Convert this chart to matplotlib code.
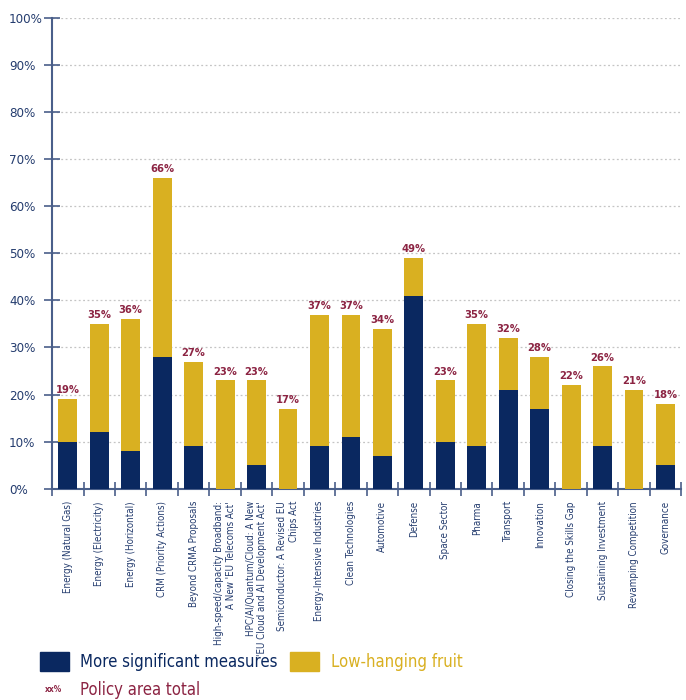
import matplotlib
matplotlib.use("Agg")
import matplotlib.pyplot as plt
from matplotlib.patches import Rectangle
from matplotlib import font_manager as fm
import numpy as np

categories = [
    "Energy (Natural Gas)",
    "Energy (Electricity)",
    "Energy (Horizontal)",
    "CRM (Priority Actions)",
    "Beyond CRMA Proposals",
    "High-speed/capacity Broadband:\nA New 'EU Telecoms Act'",
    "HPC/AI/Quantum/Cloud: A New\n'EU Cloud and AI Development Act'",
    "Semiconductor: A Revised EU\nChips Act",
    "Energy-Intensive Industries",
    "Clean Technologies",
    "Automotive",
    "Defense",
    "Space Sector",
    "Pharma",
    "Transport",
    "Innovation",
    "Closing the Skills Gap",
    "Sustaining Investment",
    "Revamping Competition",
    "Governance",
]
significant = [10, 12, 8, 28, 9, 0, 5, 0, 9, 11, 7, 41, 10, 9, 21, 17, 0, 9, 0, 5]
totals = [19, 35, 36, 66, 27, 23, 23, 17, 37, 37, 34, 49, 23, 35, 32, 28, 22, 26, 21, 18]
low_hanging = [t - s for t, s in zip(totals, significant)]
yticks = list(range(0, 101, 10))

NAVY = "#0a2860"
GOLD = "#d9b021"
CRIMSON = "#8c2443"
AXIS = "#4a5f8a"
TXT = "#243c6e"

# look for a condensed face if one exists
cond = [f for f in fm.fontManager.ttflist if "ondensed" in f.fname or "Narrow" in f.name]
FAMILY = ["DejaVu Sans"]
STRETCH = "normal"
if cond:
    FAMILY = [cond[0].name, "DejaVu Sans"]
    STRETCH = "condensed"
plt.rcParams["font.family"] = FAMILY
plt.rcParams["font.stretch"] = STRETCH

fig = plt.figure(figsize=(6.86, 7.0), dpi=100)
ax = fig.add_axes([0.076, 0.302, 0.917, 0.672])

x = np.arange(len(categories))
ax.bar(x, significant, width=0.6, color=NAVY, zorder=3)
ax.bar(x, low_hanging, width=0.6, bottom=significant, color=GOLD, zorder=3)
for xi, t in zip(x, totals):
    ax.text(xi, t + 0.8, f"{t}%", ha="center", va="bottom", color=CRIMSON,
            fontsize=8, fontweight="bold")

ax.set_xlim(-0.5, len(categories) - 0.5)
ax.set_ylim(0, 100)
ax.set_yticks(yticks)
ax.set_yticklabels([f"{v}%" for v in yticks], color=TXT, fontsize=9.5, ha="left")
ax.tick_params(axis="y", direction="inout", length=12, width=1.2, color=AXIS, pad=25)

ax.set_xticks(x)
ax.set_xticklabels(categories, rotation=90, ha="center", va="top",
                   multialignment="right", color=TXT, fontsize=7)
ax.tick_params(axis="x", which="major", length=0, pad=9)
ax.set_xticks(np.arange(-0.5, len(categories), 1.0), minor=True)
ax.tick_params(axis="x", which="minor", direction="inout", length=10, width=1.2, color=AXIS)

ax.yaxis.grid(True, linestyle=(0, (1.5, 2)), color="#c4c4c4", linewidth=0.9, zorder=0)
ax.set_axisbelow(True)
for s in ["top", "right"]:
    ax.spines[s].set_visible(False)
for s in ["left", "bottom"]:
    ax.spines[s].set_color(AXIS)
    ax.spines[s].set_linewidth(1.5)

# legend
LFS = 12
fig.patches.append(Rectangle((40 / 686, 1 - 671 / 700), 29 / 686, 19 / 700,
                             transform=fig.transFigure, color=NAVY))
fig.text(80 / 686, 1 - 662 / 700, "More significant measures", color=NAVY,
         fontsize=LFS, va="center", ha="left")
fig.patches.append(Rectangle((290 / 686, 1 - 671 / 700), 29 / 686, 19 / 700,
                             transform=fig.transFigure, color=GOLD))
fig.text(331 / 686, 1 - 662 / 700, "Low-hanging fruit", color=GOLD,
         fontsize=LFS, va="center", ha="left")
fig.text(54 / 686, 1 - 690 / 700, "xx%", color=CRIMSON, fontsize=6,
         fontweight="bold", va="center", ha="center")
fig.text(80 / 686, 1 - 690 / 700, "Policy area total", color=CRIMSON,
         fontsize=LFS, va="center", ha="left")

fig.savefig("out.png", dpi=100)
